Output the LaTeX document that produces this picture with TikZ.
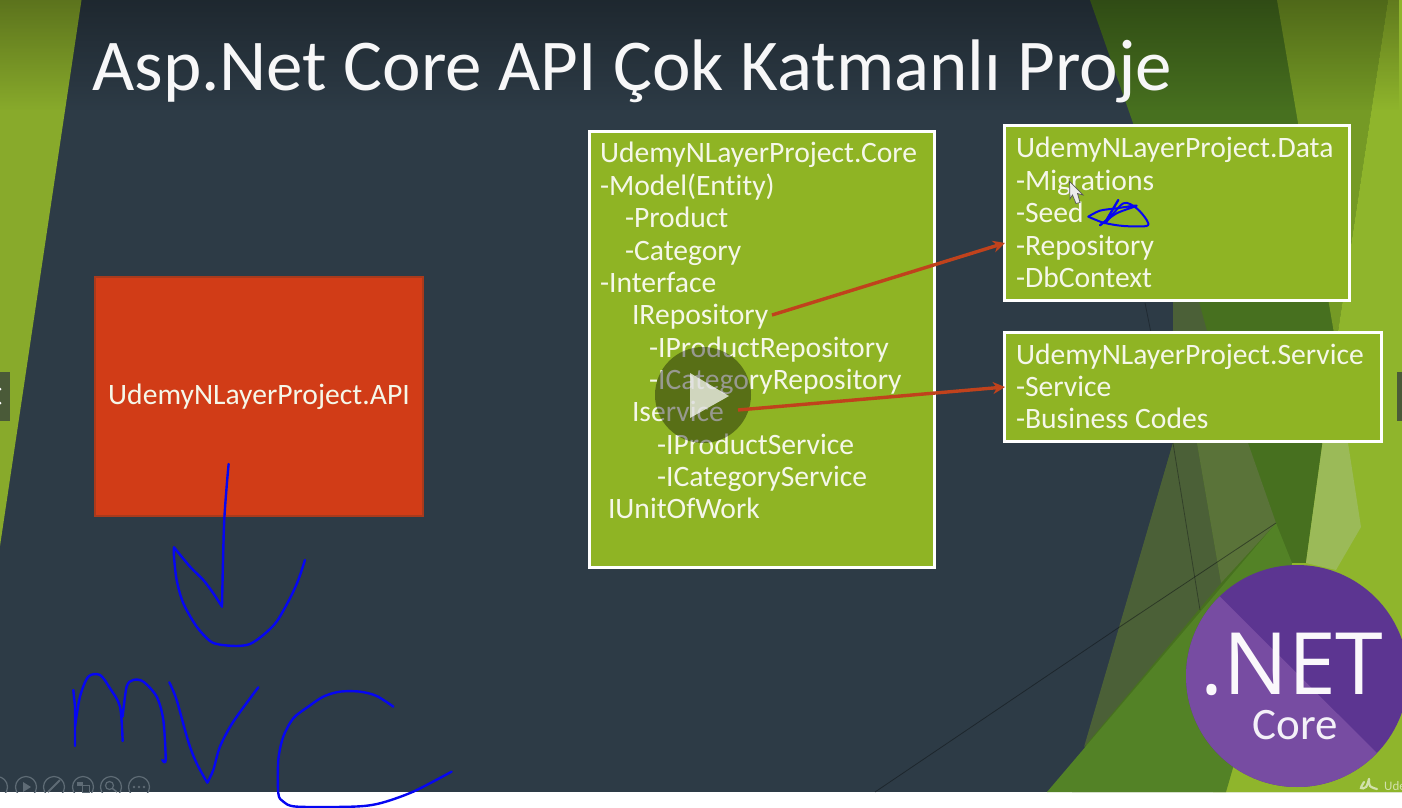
\documentclass[tikz,border=0pt]{standalone}
\usepackage{fontspec}
\setmainfont{Carlito}[Ligatures=NoCommon]
\newfontfamily\dotnetfont{Open Sans}
\usetikzlibrary{fadings,arrows.meta,calc}
\definecolor{slate}{HTML}{2D3B46}
\definecolor{leftgreen}{HTML}{88AA2B}
\definecolor{deepgreen}{HTML}{47701F}
\definecolor{olivetop}{HTML}{759A25}
\definecolor{lightright}{HTML}{8FB52C}
\definecolor{palepatch}{HTML}{9BBA58}
\definecolor{midgreen}{HTML}{538226}
\definecolor{smokeA}{HTML}{4B6037}
\definecolor{smokeB}{HTML}{5A7339}
\definecolor{boxgreen}{HTML}{8FB424}
\definecolor{boxred}{HTML}{D13C17}
\definecolor{redline}{HTML}{A93A1C}
\definecolor{arrowred}{HTML}{C0421C}
\definecolor{txt}{HTML}{F5F7E9}
\definecolor{purpleA}{HTML}{5C3591}
\definecolor{purpleB}{HTML}{774CA2}
\definecolor{ink}{HTML}{0606F2}
\definecolor{toolgray}{HTML}{5E6B75}
\definecolor{navgray}{HTML}{4A5A38}
\tikzset{
  gbox/.style={draw=white,line width=3pt,fill=boxgreen,anchor=north west,inner sep=0pt,outer sep=0pt},
  row/.style={anchor=base west,inner sep=0pt,outer sep=0pt,text=txt,font=\fontsize{29.6}{29.6}\selectfont},
  linkarrow/.style={draw=arrowred,line width=3.4pt,-{Stealth[length=12pt,width=12pt]}},
  inkline/.style={draw=ink,line width=2.4pt,line cap=round,line join=round},
  toolring/.style={draw=toolgray,line width=1.2pt},
}
\begin{document}
\begin{tikzpicture}[x=1pt,y=-1pt]
\useasboundingbox (0,0) rectangle (1402,808);
\begin{scope}
\clip (0,0) rectangle (1402,792);
% background
\fill[slate] (0,0) rectangle (1402,792);
\fill[leftgreen] (0,0) -- (81.5,0) -- (0,546) -- cycle;
\fill[deepgreen] (1090,0) -- (1402,0) -- (1402,792) -- (1072,792) -- (1173,443) -- (1173,300) -- (1133,123) -- cycle;
\fill[olivetop] (1277,0) -- (1388,0) -- (1336,345) -- cycle;
\fill[lightright] (1388,0) -- (1402,0) -- (1402,792) -- (1213,792) -- (1292,563) -- (1306,563) -- (1336,345) -- cycle;
\fill[palepatch] (1336,345) -- (1348,443) -- (1361,527) -- (1336,570) -- (1306,563) -- cycle;
\fill[midgreen] (1276,523) -- (1292,563) -- (1226,792) -- (1047,792) -- cycle;
\fill[smokeA] (1173,295) -- (1197,295) -- (1207,331) -- (1197,443) -- (1221,583) -- (1084,747) -- (1173,443) -- cycle;
\fill[smokeB] (1207,331) -- (1248,443) -- (1276,523) -- (1221,583) -- (1197,443) -- cycle;
\draw[black!70!slate,line width=.8pt,opacity=.5] (875,792) -- (1118,628) -- (1276,523);
\draw[black!70!slate,line width=.8pt,opacity=.4] (1145,303) -- (1173,443) -- (1200,610);
\fill[black,opacity=.32,path fading=south] (0,0) rectangle (1402,110);
% .NET badge
\begin{scope}
\clip (1297,676) circle (111);
\fill[purpleA] (1186,565) rectangle (1408,787);
\fill[purpleB] (1160,537) -- (1400,776) -- (1400,800) -- (1160,800) -- cycle;
\end{scope}
\node[anchor=base,inner sep=0pt,text=white!96!purpleB,font=\dotnetfont\fontsize{86}{86}\selectfont] (dotnet) at (1292,694) {.NET};
\node[anchor=base,inner sep=0pt,text=white!92!purpleB,font=\fontsize{45}{45}\selectfont] (corelabel) at (1295,739) {Core};
\node[anchor=base west,inner sep=0pt,text=white!60!lightright,font=\fontsize{13}{13}\selectfont] (ude) at (1384,790) {Ude};
\draw[white!60!lightright,line width=2.2pt,line cap=round] plot[smooth,tension=.6] coordinates {(1364,782)(1361,788)(1366,787)(1369,779)};
\draw[white!60!lightright,line width=2.2pt,line cap=round] plot[smooth,tension=.6] coordinates {(1369,779)(1370,786)(1377,789)};
% player side tabs
\fill[navgray] (0,372) rectangle (10,421);
\fill[navgray] (1397,372) rectangle (1402,421);
\fill[white] (0,389) circle (1.5) (0,403) circle (1.5);
\end{scope}
% title
\node[anchor=base west,inner sep=0pt,text=white!96!slate,font=\fontsize{73}{73}\selectfont] (title) at (92,90) {Asp.Net Core API Çok Katmanlı Proje};
% red box
\node[draw=redline,line width=2pt,fill=boxred,anchor=north west,inner sep=0pt,outer sep=0pt,minimum width=328pt,minimum height=239pt,text=txt,font=\fontsize{29.6}{29.6}\selectfont] (api) at (95,277) {UdemyNLayerProject.API};
% green boxes
\node[gbox,minimum width=345pt,minimum height=436pt] (corebox) at (589,131) {};
\node[gbox,minimum width=345pt,minimum height=175pt] (databox) at (1004,125) {};
\node[gbox,minimum width=377pt,minimum height=109pt] (servicebox) at (1004,332) {};
% core text
\node[row] (c1) at (600,162) {UdemyNLayerProject.Core};
\node[row] (c2) at (600,195) {-Model(Entity)};
\node[row] (c3) at (625,227) {-Product};
\node[row] (c4) at (625,260) {-Category};
\node[row] (c5) at (600,292) {-Interface};
\node[row] (c6) at (632,324) {IRepository};
\node[row] (c7) at (649,357) {-IProductRepository};
\node[row] (c8) at (649,389) {-ICategoryRepository};
\node[row] (c9) at (632,421) {Iservice};
\node[row] (c10) at (657,454) {-IProductService};
\node[row] (c11) at (657,486) {-ICategoryService};
\node[row] (c12) at (608,518) {IUnitOfWork};
% data text
\node[row] (d1) at (1016,157) {UdemyNLayerProject.Data};
\node[row] (d2) at (1016,190) {-Migrations};
\node[row] (d3) at (1016,222) {-Seed};
\node[row] (d4) at (1016,255) {-Repository};
\node[row] (d5) at (1016,287) {-DbContext};
% service text
\node[row] (s1) at (1016,364) {UdemyNLayerProject.Service};
\node[row] (s2) at (1016,396) {-Service};
\node[row] (s3) at (1016,428) {-Business Codes};
% play button
\fill[black,opacity=.38] (703,395) circle (48);
\fill[white,opacity=.72] (690,373) -- (729,396) -- (690,418) -- cycle;
% arrows
\coordinate (repoStart) at (772,315);
\coordinate (dataIn) at (1005,243);
\coordinate (svcStart) at (738,410);
\coordinate (svcIn) at (1005,387);
\draw[linkarrow] (repoStart) -- (dataIn);
\draw[linkarrow] (svcStart) -- (svcIn);
% cursor
\fill[white!85!gray,draw=black!65,line width=.7pt] (1069.5,181.5) -- (1083,195) -- (1077.5,193.5) -- (1080,202.5) -- (1076,203.5) -- (1072.5,195) -- (1070,199) -- cycle;
% seed scribble
\begin{scope}[shift={(1000,0)},x=.3333pt,y=-.3333pt]
\draw[inkline,line width=2pt] plot[smooth,tension=.5] coordinates {(265,650)(300,632)(350,625)(410,617)(350,640)(300,676)};
\draw[inkline,line width=2pt] (300,676) -- (320,660) -- (355,600);
\draw[inkline,line width=2pt] plot[smooth,tension=.5] coordinates {(355,600)(340,625)(315,670)(370,610)(410,625)(440,660)(440,678)(370,678)(310,668)(265,650)};
\end{scope}
% handwriting
\begin{scope}[shift={(0,440)},x=.3333pt,y=-.3333pt]
\draw[inkline] plot[smooth,tension=.5] coordinates {(686,72)(680,140)(672,260)(666,500)};
\draw[inkline] plot[smooth,tension=.5] coordinates {(666,500)(640,460)(610,420)(570,380)(522,322)};
\draw[inkline] plot[smooth,tension=.5] coordinates {(522,322)(522,350)(530,420)(550,490)(590,560)(630,603)(660,614)(710,618)(750,612)(790,585)(830,545)(870,475)(895,420)(915,360)};
\draw[inkline] (220,750) -- (225,800) -- (225,918);
\draw[inkline] plot[smooth,tension=.5] coordinates {(225,860)(240,770)(265,710)(300,705)(330,745)(360,800)(368,903)};
\draw[inkline] plot[smooth,tension=.5] coordinates {(368,830)(380,740)(400,720)(430,725)(470,770)(490,840)(497,960)(487,960)};
\draw[inkline] plot[smooth,tension=.5] coordinates {(508,727)(530,780)(565,905)(590,970)(622,1028)};
\draw[inkline] plot[smooth,tension=.5] coordinates {(622,1028)(640,990)(660,920)(700,845)(775,742)};
\draw[inkline] plot[smooth,tension=.5] coordinates {(1180,800)(1130,768)(1080,755)(1020,755)(970,770)(925,800)(880,835)(850,890)(835,960)(835,1060)(850,1085)(890,1100)(1060,1100)(1140,1090)(1240,1055)(1355,995)};
\end{scope}
% toolbar
\begin{scope}
\clip (0,770) rectangle (160,792);
\draw[toolring] (-3,787) circle (10.5);
\draw[toolring] (26,787) circle (10.5);
\draw[toolring] (54,787) circle (10.5);
\draw[toolring] (83,787) circle (10.5);
\draw[toolring] (111,787) circle (10.5);
\draw[toolring] (139,787) circle (10.5);
\fill[toolgray] (23,782) -- (31,787) -- (23,792) -- cycle;
\draw[toolgray,line width=2pt] (48,792) -- (60,780);
\fill[toolgray] (77,782) rectangle (83,786);
\draw[toolgray,line width=1pt] (82,785) rectangle (89,792);
\draw[toolgray,line width=1.2pt] (109.5,785.5) circle (4);
\draw[toolgray,line width=1.5pt] (112.5,788.5) -- (117,792);
\fill[toolgray] (134,787) circle (1.3) (139,787) circle (1.3) (144,787) circle (1.3);
\end{scope}
\end{tikzpicture}
\end{document}
